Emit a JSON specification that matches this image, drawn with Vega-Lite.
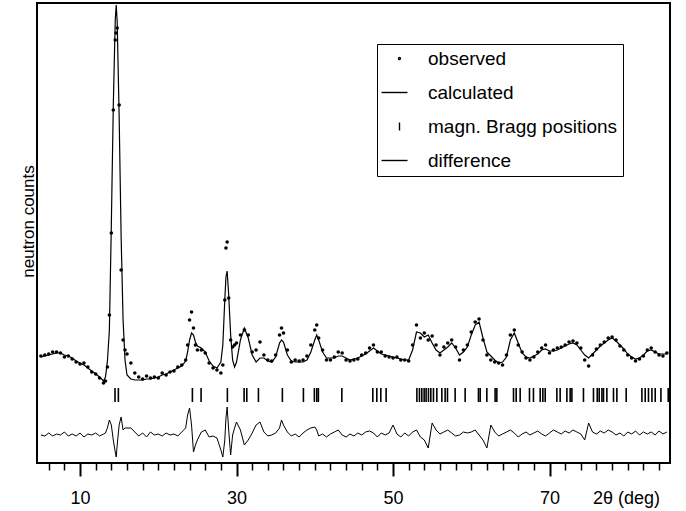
{
  "$schema": "https://vega.github.io/schema/vega-lite/v6.json",
  "width": 633,
  "height": 460,
  "autosize": "none",
  "padding": {"left": 37, "top": 3, "right": 16, "bottom": 48},
  "config": {"view": {"stroke": "black", "strokeWidth": 2}, "font": "Liberation Sans"},
  "datasets": {
    "profile": [
      {"deg": 5.0, "observed": 107, "calculated": 106, "difference": 28},
      {"deg": 5.5, "observed": 108, "calculated": 107, "difference": 27},
      {"deg": 6.0, "observed": 109, "calculated": 108, "difference": 30},
      {"deg": 6.5, "observed": 111, "calculated": 109, "difference": 27},
      {"deg": 7.0, "observed": 111, "calculated": 110, "difference": 29},
      {"deg": 7.5, "observed": 110, "calculated": 110, "difference": 28},
      {"deg": 8.0, "observed": 106, "calculated": 108, "difference": 31},
      {"deg": 8.5, "observed": 107, "calculated": 107, "difference": 27},
      {"deg": 9.0, "observed": 104, "calculated": 105, "difference": 29},
      {"deg": 9.5, "observed": 101, "calculated": 102, "difference": 27},
      {"deg": 10.0, "observed": 99, "calculated": 100, "difference": 30},
      {"deg": 10.5, "observed": 100, "calculated": 98, "difference": 26},
      {"deg": 11.0, "observed": 96, "calculated": 95, "difference": 29},
      {"deg": 11.5, "observed": 91, "calculated": 92, "difference": 28},
      {"deg": 12.0, "observed": 89, "calculated": 89, "difference": 30},
      {"deg": 12.5, "observed": 85, "calculated": 86, "difference": 27},
      {"deg": 13.0, "observed": 80, "calculated": 82, "difference": 29},
      {"deg": 13.25, "observed": 82, "calculated": 86, "difference": 30},
      {"deg": 13.5, "observed": 96, "calculated": 102, "difference": 35},
      {"deg": 13.75, "observed": 148, "calculated": 133, "difference": 43},
      {"deg": 14.0, "observed": 230, "calculated": 238, "difference": 38},
      {"deg": 14.25, "observed": 353, "calculated": 357, "difference": 23},
      {"deg": 14.5, "observed": 423, "calculated": 443, "difference": 11},
      {"deg": 14.625, "observed": 430, "calculated": 458, "difference": 6},
      {"deg": 14.75, "observed": 435, "calculated": 441, "difference": 18},
      {"deg": 15.0, "observed": 358, "calculated": 346, "difference": 38},
      {"deg": 15.25, "observed": 193, "calculated": 227, "difference": 46},
      {"deg": 15.5, "observed": 123, "calculated": 143, "difference": 33},
      {"deg": 15.75, "observed": 113, "calculated": 103, "difference": 35},
      {"deg": 16.0, "observed": 109, "calculated": 88, "difference": 35},
      {"deg": 16.5, "observed": 100, "calculated": 84, "difference": 35},
      {"deg": 17.0, "observed": 90, "calculated": 83, "difference": 31},
      {"deg": 17.5, "observed": 86, "calculated": 83, "difference": 27},
      {"deg": 18.0, "observed": 84, "calculated": 83, "difference": 30},
      {"deg": 18.5, "observed": 87, "calculated": 84, "difference": 26},
      {"deg": 19.0, "observed": 85, "calculated": 84, "difference": 31},
      {"deg": 19.5, "observed": 86, "calculated": 85, "difference": 28},
      {"deg": 20.0, "observed": 85, "calculated": 86, "difference": 29},
      {"deg": 20.5, "observed": 90, "calculated": 88, "difference": 27},
      {"deg": 21.0, "observed": 88, "calculated": 89, "difference": 30},
      {"deg": 21.5, "observed": 91, "calculated": 91, "difference": 28},
      {"deg": 22.0, "observed": 92, "calculated": 93, "difference": 29},
      {"deg": 22.5, "observed": 96, "calculated": 95, "difference": 27},
      {"deg": 23.0, "observed": 98, "calculated": 97, "difference": 31},
      {"deg": 23.5, "observed": 103, "calculated": 102, "difference": 35},
      {"deg": 23.75, "observed": 118, "calculated": 111, "difference": 48},
      {"deg": 24.0, "observed": 143, "calculated": 123, "difference": 55},
      {"deg": 24.25, "observed": 151, "calculated": 130, "difference": 38},
      {"deg": 24.5, "observed": 135, "calculated": 128, "difference": 11},
      {"deg": 24.75, "observed": 118, "calculated": 121, "difference": 18},
      {"deg": 25.0, "observed": 113, "calculated": 117, "difference": 23},
      {"deg": 25.5, "observed": 113, "calculated": 115, "difference": 31},
      {"deg": 26.0, "observed": 110, "calculated": 111, "difference": 33},
      {"deg": 26.5, "observed": 100, "calculated": 102, "difference": 26},
      {"deg": 27.0, "observed": 95, "calculated": 97, "difference": 27},
      {"deg": 27.5, "observed": 93, "calculated": 95, "difference": 25},
      {"deg": 28.0, "observed": 90, "calculated": 101, "difference": 13},
      {"deg": 28.25, "observed": 98, "calculated": 118, "difference": 6},
      {"deg": 28.5, "observed": 163, "calculated": 163, "difference": 23},
      {"deg": 28.65, "observed": 215, "calculated": 186, "difference": 45},
      {"deg": 28.8, "observed": 221, "calculated": 192, "difference": 56},
      {"deg": 29.0, "observed": 165, "calculated": 168, "difference": 33},
      {"deg": 29.25, "observed": 123, "calculated": 128, "difference": 8},
      {"deg": 29.5, "observed": 116, "calculated": 103, "difference": 28},
      {"deg": 29.75, "observed": 118, "calculated": 96, "difference": 35},
      {"deg": 30.0, "observed": 120, "calculated": 101, "difference": 41},
      {"deg": 30.5, "observed": 128, "calculated": 123, "difference": 33},
      {"deg": 31.0, "observed": 133, "calculated": 135, "difference": 18},
      {"deg": 31.5, "observed": 128, "calculated": 125, "difference": 23},
      {"deg": 32.0, "observed": 111, "calculated": 108, "difference": 30},
      {"deg": 32.5, "observed": 113, "calculated": 101, "difference": 38},
      {"deg": 33.0, "observed": 121, "calculated": 105, "difference": 41},
      {"deg": 33.5, "observed": 108, "calculated": 105, "difference": 31},
      {"deg": 34.0, "observed": 103, "calculated": 102, "difference": 27},
      {"deg": 34.5, "observed": 102, "calculated": 101, "difference": 28},
      {"deg": 35.0, "observed": 108, "calculated": 106, "difference": 30},
      {"deg": 35.5, "observed": 128, "calculated": 120, "difference": 35},
      {"deg": 35.75, "observed": 135, "calculated": 123, "difference": 43},
      {"deg": 36.0, "observed": 130, "calculated": 121, "difference": 38},
      {"deg": 36.5, "observed": 113, "calculated": 108, "difference": 31},
      {"deg": 37.0, "observed": 101, "calculated": 102, "difference": 27},
      {"deg": 37.5, "observed": 103, "calculated": 101, "difference": 29},
      {"deg": 38.0, "observed": 102, "calculated": 101, "difference": 26},
      {"deg": 38.5, "observed": 103, "calculated": 101, "difference": 30},
      {"deg": 39.0, "observed": 107, "calculated": 103, "difference": 33},
      {"deg": 39.5, "observed": 118, "calculated": 111, "difference": 35},
      {"deg": 40.0, "observed": 133, "calculated": 123, "difference": 36},
      {"deg": 40.25, "observed": 138, "calculated": 128, "difference": 33},
      {"deg": 40.5, "observed": 125, "calculated": 123, "difference": 27},
      {"deg": 41.0, "observed": 113, "calculated": 111, "difference": 29},
      {"deg": 41.5, "observed": 103, "calculated": 105, "difference": 26},
      {"deg": 42.0, "observed": 103, "calculated": 105, "difference": 29},
      {"deg": 42.5, "observed": 106, "calculated": 105, "difference": 31},
      {"deg": 43.0, "observed": 111, "calculated": 107, "difference": 33},
      {"deg": 43.5, "observed": 110, "calculated": 107, "difference": 28},
      {"deg": 44.0, "observed": 103, "calculated": 105, "difference": 26},
      {"deg": 44.5, "observed": 102, "calculated": 103, "difference": 29},
      {"deg": 45.0, "observed": 103, "calculated": 104, "difference": 27},
      {"deg": 45.5, "observed": 104, "calculated": 105, "difference": 30},
      {"deg": 46.0, "observed": 108, "calculated": 107, "difference": 28},
      {"deg": 46.5, "observed": 110, "calculated": 109, "difference": 31},
      {"deg": 47.0, "observed": 115, "calculated": 112, "difference": 32},
      {"deg": 47.5, "observed": 118, "calculated": 115, "difference": 30},
      {"deg": 48.0, "observed": 111, "calculated": 112, "difference": 26},
      {"deg": 48.5, "observed": 111, "calculated": 109, "difference": 30},
      {"deg": 49.0, "observed": 107, "calculated": 108, "difference": 28},
      {"deg": 49.5, "observed": 106, "calculated": 107, "difference": 30},
      {"deg": 50.0, "observed": 105, "calculated": 106, "difference": 38},
      {"deg": 50.5, "observed": 106, "calculated": 105, "difference": 29},
      {"deg": 51.0, "observed": 103, "calculated": 104, "difference": 26},
      {"deg": 51.5, "observed": 103, "calculated": 103, "difference": 30},
      {"deg": 52.0, "observed": 102, "calculated": 103, "difference": 27},
      {"deg": 52.5, "observed": 118, "calculated": 113, "difference": 31},
      {"deg": 53.0, "observed": 138, "calculated": 131, "difference": 33},
      {"deg": 53.5, "observed": 125, "calculated": 130, "difference": 26},
      {"deg": 54.0, "observed": 130, "calculated": 126, "difference": 23},
      {"deg": 54.5, "observed": 123, "calculated": 128, "difference": 15},
      {"deg": 55.0, "observed": 127, "calculated": 120, "difference": 40},
      {"deg": 55.5, "observed": 118, "calculated": 113, "difference": 33},
      {"deg": 56.0, "observed": 108, "calculated": 110, "difference": 29},
      {"deg": 56.5, "observed": 116, "calculated": 113, "difference": 31},
      {"deg": 57.0, "observed": 120, "calculated": 116, "difference": 33},
      {"deg": 57.5, "observed": 123, "calculated": 120, "difference": 30},
      {"deg": 58.0, "observed": 116, "calculated": 115, "difference": 27},
      {"deg": 58.5, "observed": 103, "calculated": 108, "difference": 28},
      {"deg": 59.0, "observed": 113, "calculated": 111, "difference": 31},
      {"deg": 59.5, "observed": 118, "calculated": 116, "difference": 30},
      {"deg": 60.0, "observed": 131, "calculated": 128, "difference": 31},
      {"deg": 60.5, "observed": 141, "calculated": 138, "difference": 33},
      {"deg": 61.0, "observed": 144, "calculated": 141, "difference": 28},
      {"deg": 61.5, "observed": 123, "calculated": 125, "difference": 23},
      {"deg": 62.0, "observed": 108, "calculated": 111, "difference": 15},
      {"deg": 62.5, "observed": 103, "calculated": 107, "difference": 38},
      {"deg": 63.0, "observed": 101, "calculated": 103, "difference": 31},
      {"deg": 63.5, "observed": 100, "calculated": 100, "difference": 27},
      {"deg": 64.0, "observed": 98, "calculated": 101, "difference": 29},
      {"deg": 64.5, "observed": 108, "calculated": 106, "difference": 31},
      {"deg": 65.0, "observed": 128, "calculated": 123, "difference": 33},
      {"deg": 65.5, "observed": 133, "calculated": 130, "difference": 30},
      {"deg": 66.0, "observed": 118, "calculated": 120, "difference": 26},
      {"deg": 66.5, "observed": 111, "calculated": 110, "difference": 29},
      {"deg": 67.0, "observed": 105, "calculated": 106, "difference": 31},
      {"deg": 67.5, "observed": 103, "calculated": 105, "difference": 28},
      {"deg": 68.0, "observed": 106, "calculated": 107, "difference": 30},
      {"deg": 68.5, "observed": 111, "calculated": 109, "difference": 32},
      {"deg": 69.0, "observed": 115, "calculated": 113, "difference": 29},
      {"deg": 69.5, "observed": 118, "calculated": 114, "difference": 27},
      {"deg": 70.0, "observed": 110, "calculated": 112, "difference": 30},
      {"deg": 70.5, "observed": 113, "calculated": 112, "difference": 33},
      {"deg": 71.0, "observed": 115, "calculated": 113, "difference": 31},
      {"deg": 71.5, "observed": 116, "calculated": 115, "difference": 29},
      {"deg": 72.0, "observed": 118, "calculated": 117, "difference": 32},
      {"deg": 72.5, "observed": 121, "calculated": 119, "difference": 30},
      {"deg": 73.0, "observed": 122, "calculated": 120, "difference": 33},
      {"deg": 73.5, "observed": 120, "calculated": 118, "difference": 31},
      {"deg": 74.0, "observed": 115, "calculated": 113, "difference": 29},
      {"deg": 74.5, "observed": 103, "calculated": 108, "difference": 23},
      {"deg": 75.0, "observed": 97, "calculated": 105, "difference": 40},
      {"deg": 75.5, "observed": 108, "calculated": 109, "difference": 31},
      {"deg": 76.0, "observed": 114, "calculated": 113, "difference": 29},
      {"deg": 76.5, "observed": 118, "calculated": 117, "difference": 32},
      {"deg": 77.0, "observed": 121, "calculated": 120, "difference": 30},
      {"deg": 77.5, "observed": 125, "calculated": 123, "difference": 33},
      {"deg": 78.0, "observed": 126, "calculated": 125, "difference": 31},
      {"deg": 78.5, "observed": 123, "calculated": 122, "difference": 28},
      {"deg": 79.0, "observed": 117, "calculated": 118, "difference": 30},
      {"deg": 79.5, "observed": 113, "calculated": 114, "difference": 27},
      {"deg": 80.0, "observed": 108, "calculated": 109, "difference": 31},
      {"deg": 80.5, "observed": 105, "calculated": 106, "difference": 29},
      {"deg": 81.0, "observed": 102, "calculated": 104, "difference": 32},
      {"deg": 81.5, "observed": 104, "calculated": 105, "difference": 28},
      {"deg": 82.0, "observed": 107, "calculated": 108, "difference": 31},
      {"deg": 82.5, "observed": 113, "calculated": 112, "difference": 29},
      {"deg": 83.0, "observed": 115, "calculated": 113, "difference": 31},
      {"deg": 83.5, "observed": 111, "calculated": 111, "difference": 28},
      {"deg": 84.0, "observed": 108, "calculated": 109, "difference": 32},
      {"deg": 84.5, "observed": 107, "calculated": 109, "difference": 29},
      {"deg": 85.0, "observed": 110, "calculated": 109, "difference": 31}
    ],
    "bragg": [
      {"deg": 14.47}, {"deg": 14.9}, {"deg": 24.36}, {"deg": 25.47}, {"deg": 28.83},
      {"deg": 30.97}, {"deg": 31.31}, {"deg": 32.8}, {"deg": 35.86}, {"deg": 38.55},
      {"deg": 39.95}, {"deg": 40.26}, {"deg": 40.46}, {"deg": 43.46}, {"deg": 47.42},
      {"deg": 47.93}, {"deg": 48.44}, {"deg": 49.12}, {"deg": 53.05}, {"deg": 53.38},
      {"deg": 53.68}, {"deg": 53.98}, {"deg": 54.23}, {"deg": 54.53}, {"deg": 54.83},
      {"deg": 55.17}, {"deg": 55.6}, {"deg": 56.24}, {"deg": 56.66}, {"deg": 56.96},
      {"deg": 57.94}, {"deg": 59.22}, {"deg": 60.92}, {"deg": 61.14}, {"deg": 61.99},
      {"deg": 63.05}, {"deg": 63.27}, {"deg": 65.4}, {"deg": 65.74}, {"deg": 66.25},
      {"deg": 67.44}, {"deg": 67.95}, {"deg": 68.81}, {"deg": 69.15}, {"deg": 69.45},
      {"deg": 70.94}, {"deg": 71.36}, {"deg": 72.22}, {"deg": 72.64}, {"deg": 72.86},
      {"deg": 74.34}, {"deg": 75.62}, {"deg": 76.1}, {"deg": 76.35}, {"deg": 76.7},
      {"deg": 76.9}, {"deg": 77.33}, {"deg": 78.18}, {"deg": 78.61}, {"deg": 79.8},
      {"deg": 81.81}, {"deg": 82.23}, {"deg": 82.65}, {"deg": 83.09}, {"deg": 83.51},
      {"deg": 84.24}, {"deg": 85.17}
    ],
    "series": [
      {"series": "observed"},
      {"series": "calculated"},
      {"series": "magn. Bragg positions"},
      {"series": "difference"}
    ]
  },
  "encoding": {
    "x": {
      "field": "deg",
      "type": "quantitative",
      "scale": {"domain": [4.5, 85.4], "nice": false, "zero": false},
      "axis": {
        "values": [6, 8, 10, 12, 14, 16, 18, 20, 22, 24, 26, 28, 30, 32, 34, 36, 38, 40, 42, 44, 46, 48, 50, 52, 54, 56, 58, 60, 62, 64, 66, 68, 70, 72, 74, 76, 78, 80, 82, 84],
        "domain": false,
        "grid": false,
        "tickColor": "black",
        "tickWidth": {"condition": {"test": "datum.value % 20 == 10", "value": 2}, "value": 1.5},
        "tickSize": {"condition": {"test": "datum.value % 20 == 10", "value": 13}, "value": 7},
        "labelExpr": "datum.value % 20 == 10 ? datum.label : ''",
        "labelFontSize": 18,
        "labelFont": "Liberation Sans",
        "labelColor": "black",
        "labelBaseline": "alphabetic",
        "labelPadding": 27,
        "labelOverlap": false,
        "labelFlush": false,
        "title": "2θ (deg)",
        "titleFont": "Liberation Sans",
        "titleFontSize": 18,
        "titleFontWeight": "normal",
        "titleColor": "black",
        "titleX": 589,
        "titleY": 40,
        "titleAlign": "center",
        "titleBaseline": "alphabetic"
      }
    }
  },
  "layer": [
    {
      "data": {"name": "profile"},
      "mark": {"type": "line", "color": "black", "strokeWidth": 1.2},
      "encoding": {
        "y": {
          "field": "calculated",
          "type": "quantitative",
          "scale": {"domain": [0, 460], "nice": false, "zero": false},
          "axis": {
            "title": "neutron counts",
            "labels": false,
            "ticks": false,
            "domain": false,
            "grid": false,
            "titleFont": "Liberation Sans",
            "titleFontSize": 17,
            "titleFontWeight": "normal",
            "titleColor": "black",
            "titleAngle": 270,
            "titleX": -4,
            "titleY": 218,
            "titleAlign": "center",
            "titleBaseline": "alphabetic"
          }
        }
      }
    },
    {
      "data": {"name": "profile"},
      "mark": {"type": "line", "color": "black", "strokeWidth": 1},
      "encoding": {"y": {"field": "difference", "type": "quantitative"}}
    },
    {
      "data": {"name": "bragg"},
      "mark": {"type": "rule", "color": "black", "strokeWidth": 1.6},
      "encoding": {"y": {"datum": 75}, "y2": {"datum": 61}}
    },
    {
      "data": {"name": "profile"},
      "mark": {"type": "circle", "color": "black", "opacity": 1, "size": 13},
      "encoding": {"y": {"field": "observed", "type": "quantitative"}}
    },
    {
      "data": {"name": "series"},
      "mark": {"type": "point", "filled": false, "color": "black", "strokeWidth": 1.4, "opacity": 0, "size": 100},
      "encoding": {
        "shape": {
          "field": "series",
          "type": "nominal",
          "scale": {
            "domain": ["observed", "calculated", "magn. Bragg positions", "difference"],
            "range": [
              "M1.4,0A0.2,0.2 0 1,0 1.8,0A0.2,0.2 0 1,0 1.4,0Z",
              "M-2.0,0H3.2",
              "M1.6,-0.8V0.8",
              "M-2.0,0H3.2"
            ]
          },
          "legend": {
            "orient": "none",
            "legendX": 340,
            "legendY": 41,
            "title": null,
            "strokeColor": "black",
            "fillColor": "white",
            "padding": 5,
            "labelFont": "Liberation Sans",
            "labelFontSize": 19,
            "labelColor": "black",
            "labelOffset": 27,
            "labelLimit": 400,
            "rowPadding": 14,
            "symbolSize": 100,
            "symbolStrokeColor": "black",
            "symbolStrokeWidth": 1.4,
            "symbolOpacity": 1
          }
        }
      }
    }
  ]
}
